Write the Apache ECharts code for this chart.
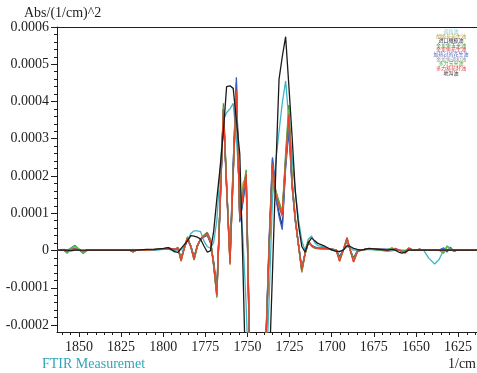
<!DOCTYPE html>
<html><head><meta charset="utf-8">
<script src="https://cdn.jsdelivr.net/npm/echarts@6/dist/echarts.min.js"></script>
<style>html,body{margin:0;padding:0;background:#fff}#c{width:477px;height:373px}</style>
</head><body><div id="c"></div><script>
// ---- data ----
const wavenumbers = [1863,1859,1857,1855,1852.4,1850,1847.6,1845,1838,1830,
1824,1820,1818,1816,1810,1804,1800,1797.2,1795.3,1793.3,
1791.4,1789.5,1787.6,1785.7,1783.7,1781.8,1779.9,1778,1776,1774,
1772.1,1770.2,1768.3,1766.3,1764.4,1762.5,1760.5,1758.6,1756.7,1754.7,
1752.8,1750.9,1749,1747,1745,1743,1741,1739.1,1737.2,1735.3,
1733.3,1731.4,1729.5,1727.5,1725.6,1723.7,1721.8,1719.8,1717.9,1716,
1714,1712.1,1710.2,1708.3,1704,1700,1697.5,1695.5,1693.3,1691.1,
1689.2,1687.2,1685,1682.8,1678,1672,1667.4,1664.5,1662.5,1660.5,
1658.5,1656.5,1654.5,1652,1648,1645.7,1642.5,1639.1,1636.5,1633.8,
1631.8,1629.8,1627.8,1625.8,1620,1614];

const seriesNames = ['调和油','胡姬花花生油','进口橄榄油','金龙鱼玉米油','金龙鱼花生油','加热过的花生油','金龙鱼调和油','多力玉米油','多力葵花籽油','地沟油'];
const seriesColors = ['#3cb4c6','#b5ad45','#22295a','#3a9a3a','#d83c3c','#3c5cc0','#8c8c8c','#58c058','#e8402a','#1a1a1a'];
const legendColors = ['#7fd0de','#b0a040','#303050','#409040','#d04040','#5060c0','#909090','#50b050','#e04040','#303030'];

const oil1 = [0,0.02e-4,0,0.05e-4,0.1e-4,0.03e-4,-0.05e-4,0,0,0,
0,0,0.02e-4,0,0,0,0.02e-4,0.03e-4,0,-0.05e-4,
0.05e-4,0,0.1e-4,0.25e-4,0.45e-4,0.52e-4,0.52e-4,0.5e-4,0.25e-4,0.1e-4,
0.05e-4,0.2e-4,0.8e-4,2.2e-4,3.5e-4,3.7e-4,3.8e-4,3.95e-4,3.0e-4,1.6e-4,
0.3e-4,-1.5e-4,-4e-4,-8e-4,-10e-4,-9e-4,-6e-4,-3.5e-4,-1.2e-4,1.4e-4,
2.4e-4,3.2e-4,3.95e-4,4.55e-4,3.5e-4,2.5e-4,1.6e-4,0.8e-4,0.25e-4,0,
0.3e-4,0.38e-4,0.2e-4,0.12e-4,0.08e-4,0,-0.02e-4,-0.05e-4,0,0.1e-4,
0.05e-4,0,0,0,0.02e-4,0,-0.03e-4,-0.02e-4,0,0,
-0.02e-4,0,0,0,0,0,-0.22e-4,-0.37e-4,-0.25e-4,0,
0,0,0,0,0,0];

const oil2 = [0,0,-0.03e-4,0.02e-4,0.03e-4,0,-0.03e-4,0,0,0,
0,0,-0.04e-4,0,0,0.02e-4,0.03e-4,0.05e-4,0.04e-4,0.02e-4,
0.05e-4,-0.25e-4,0.06e-4,0.32e-4,0.09e-4,-0.23e-4,0.12e-4,0.3e-4,0.38e-4,0.44e-4,
0.25e-4,-0.38e-4,-1.15e-4,1.35e-4,3.75e-4,1.75e-4,-0.3e-4,2.1e-4,4.25e-4,1.1e-4,
1.8e-4,2.0e-4,-2.3e-4,-7e-4,-10e-4,-9e-4,-6e-4,-2.35e-4,0.2e-4,2.25e-4,
1.55e-4,1.3e-4,1.05e-4,2.45e-4,3.6e-4,1.85e-4,0.9e-4,0.12e-4,-0.52e-4,-0.1e-4,
0.24e-4,0.12e-4,0.06e-4,0.05e-4,0.04e-4,0.02e-4,0,-0.26e-4,0,0.3e-4,
0,-0.28e-4,-0.04e-4,0,0.04e-4,0.02e-4,0,0.02e-4,0.04e-4,0,
-0.02e-4,-0.06e-4,0.04e-4,0,0.02e-4,0,0,0,0,0.02e-4,
0.02e-4,0.02e-4,0,0,0,0];

const oil3 = [0,0,-0.02e-4,0.01e-4,0.02e-4,0,-0.02e-4,0,0,0,
0,0,-0.02e-4,0,0,0.02e-4,0.03e-4,0.05e-4,0.03e-4,0.02e-4,
0.04e-4,-0.2e-4,0.06e-4,0.3e-4,0.12e-4,-0.18e-4,0.12e-4,0.3e-4,0.36e-4,0.4e-4,
0.2e-4,-0.3e-4,-1.0e-4,1.3e-4,3.75e-4,1.7e-4,-0.15e-4,2.3e-4,4.5e-4,0.8e-4,
1.35e-4,1.95e-4,-2.5e-4,-7e-4,-10e-4,-9e-4,-6e-4,-2.3e-4,0.3e-4,2.45e-4,
1.45e-4,1.0e-4,0.65e-4,2.3e-4,3.4e-4,1.75e-4,0.8e-4,0.12e-4,-0.5e-4,-0.08e-4,
0.22e-4,0.14e-4,0.08e-4,0.06e-4,0.05e-4,0.03e-4,0.01e-4,-0.18e-4,0.01e-4,0.26e-4,
0.01e-4,-0.22e-4,-0.02e-4,0,0.04e-4,0.03e-4,0.02e-4,0.03e-4,0.04e-4,0,
-0.02e-4,-0.04e-4,0.04e-4,0,0.02e-4,0,0,0,0,0.03e-4,
-0.03e-4,0.05e-4,-0.02e-4,0,0,0];

const oil4 = [0,0,-0.08e-4,0.05e-4,0.13e-4,0.02e-4,-0.09e-4,0,0,0,
0,0,-0.03e-4,0,0,0.02e-4,0.02e-4,0.05e-4,0.03e-4,0,
0.08e-4,-0.3e-4,0.1e-4,0.36e-4,0.1e-4,-0.27e-4,0.1e-4,0.3e-4,0.4e-4,0.48e-4,
0.3e-4,-0.4e-4,-1.28e-4,1.4e-4,3.95e-4,1.8e-4,-0.3e-4,2.1e-4,4.2e-4,0.9e-4,
1.6e-4,2.16e-4,-2.2e-4,-7e-4,-10e-4,-9e-4,-6e-4,-2.5e-4,0.1e-4,2.1e-4,
1.6e-4,1.3e-4,1.0e-4,2.6e-4,3.9e-4,1.9e-4,0.85e-4,0.1e-4,-0.6e-4,-0.12e-4,
0.22e-4,0.1e-4,0.05e-4,0.04e-4,0.03e-4,0.02e-4,0,-0.25e-4,0,0.3e-4,
0,-0.28e-4,-0.03e-4,0,0.03e-4,0,0,0.06e-4,0.02e-4,0,
0,-0.02e-4,0.03e-4,0,0,0,0,0,0,-0.08e-4,
0.1e-4,0.05e-4,-0.03e-4,0,0,0];

const oil5 = [0,0,-0.05e-4,0.03e-4,0.05e-4,0,-0.04e-4,0,0,0,
0,0,-0.05e-4,0.01e-4,0,0.02e-4,0.03e-4,0.06e-4,0.04e-4,0.02e-4,
0.06e-4,-0.27e-4,0.05e-4,0.32e-4,0.08e-4,-0.24e-4,0.11e-4,0.3e-4,0.37e-4,0.45e-4,
0.25e-4,-0.4e-4,-1.2e-4,1.3e-4,3.75e-4,1.7e-4,-0.35e-4,2.05e-4,4.3e-4,0.85e-4,
1.5e-4,2.05e-4,-2.3e-4,-7e-4,-10e-4,-9e-4,-6e-4,-2.4e-4,0.2e-4,2.3e-4,
1.5e-4,1.2e-4,0.95e-4,2.4e-4,3.6e-4,1.8e-4,0.85e-4,0.1e-4,-0.55e-4,-0.1e-4,
0.24e-4,0.12e-4,0.06e-4,0.05e-4,0.04e-4,0.02e-4,0,-0.29e-4,0,0.33e-4,
0,-0.31e-4,-0.05e-4,0,0.04e-4,0.02e-4,0,0.02e-4,0.04e-4,0,
-0.03e-4,-0.07e-4,0.05e-4,0,0.02e-4,0,0,0,0,0,
0.01e-4,0.02e-4,0,0,0,0];

const oil6 = [0,0,-0.03e-4,0.02e-4,0.04e-4,0,-0.02e-4,0,0,0,
0,0,-0.03e-4,0,0,0.02e-4,0.03e-4,0.05e-4,0.03e-4,0.02e-4,
0.05e-4,-0.22e-4,0.05e-4,0.3e-4,0.1e-4,-0.2e-4,0.1e-4,0.28e-4,0.36e-4,0.42e-4,
0.22e-4,-0.35e-4,-1.1e-4,1.2e-4,3.7e-4,1.6e-4,-0.2e-4,2.3e-4,4.65e-4,0.75e-4,
1.3e-4,1.9e-4,-2.6e-4,-7e-4,-10e-4,-9e-4,-6e-4,-2.2e-4,0.4e-4,2.5e-4,
1.4e-4,0.9e-4,0.55e-4,2.2e-4,3.2e-4,1.7e-4,0.8e-4,0.15e-4,-0.5e-4,-0.1e-4,
0.2e-4,0.12e-4,0.08e-4,0.06e-4,0.05e-4,0.03e-4,0,-0.2e-4,0,0.28e-4,
0,-0.25e-4,-0.03e-4,0,0.04e-4,0.03e-4,0.02e-4,0.03e-4,0.05e-4,0,
-0.02e-4,-0.05e-4,0.06e-4,0,0.02e-4,0,0,0,0,0.06e-4,
-0.05e-4,0.08e-4,-0.03e-4,0,0,0];

const oil7 = [0,0,-0.03e-4,0.02e-4,0.03e-4,0,-0.03e-4,0,0,0,
0,0,-0.04e-4,0,0,0.02e-4,0.03e-4,0.05e-4,0.03e-4,0.02e-4,
0.05e-4,-0.24e-4,0.06e-4,0.3e-4,0.1e-4,-0.22e-4,0.12e-4,0.3e-4,0.37e-4,0.43e-4,
0.24e-4,-0.36e-4,-1.12e-4,1.35e-4,3.7e-4,1.75e-4,-0.25e-4,2.1e-4,4.2e-4,0.95e-4,
1.6e-4,2.0e-4,-2.35e-4,-7e-4,-10e-4,-9e-4,-6e-4,-2.35e-4,0.25e-4,2.3e-4,
1.5e-4,1.15e-4,0.9e-4,2.35e-4,3.55e-4,1.8e-4,0.85e-4,0.12e-4,-0.5e-4,-0.1e-4,
0.23e-4,0.12e-4,0.06e-4,0.05e-4,0.04e-4,0.02e-4,0,-0.24e-4,0,0.28e-4,
0,-0.26e-4,-0.04e-4,0,0.04e-4,0.02e-4,0,0.02e-4,0.03e-4,0,
-0.02e-4,-0.05e-4,0.04e-4,0,0.02e-4,0,0,0,0,0.02e-4,
0.01e-4,0.02e-4,0,0,0,0];

const oil8 = [0,0,-0.06e-4,0.04e-4,0.1e-4,0.02e-4,-0.07e-4,0,0,0,
0,0,-0.04e-4,0,0,0.02e-4,0.03e-4,0.05e-4,0.03e-4,0.01e-4,
0.07e-4,-0.29e-4,0.08e-4,0.35e-4,0.09e-4,-0.26e-4,0.11e-4,0.3e-4,0.39e-4,0.47e-4,
0.28e-4,-0.42e-4,-1.25e-4,1.35e-4,3.85e-4,1.75e-4,-0.35e-4,2.05e-4,4.25e-4,0.88e-4,
1.55e-4,2.1e-4,-2.25e-4,-7e-4,-10e-4,-9e-4,-6e-4,-2.45e-4,0.15e-4,2.2e-4,
1.55e-4,1.25e-4,0.98e-4,2.5e-4,3.8e-4,1.85e-4,0.85e-4,0.1e-4,-0.58e-4,-0.1e-4,
0.23e-4,0.11e-4,0.05e-4,0.04e-4,0.03e-4,0.02e-4,0,-0.27e-4,0,0.32e-4,
0,-0.3e-4,-0.04e-4,0,0.03e-4,0.01e-4,0,0.05e-4,0.03e-4,0,
-0.02e-4,-0.05e-4,0.04e-4,0,0.01e-4,0,0,0,0,-0.06e-4,
0.12e-4,0.04e-4,-0.02e-4,0,0,0];

const oil9 = [0,0,-0.04e-4,0.02e-4,0.03e-4,0,-0.03e-4,0,0,0,
0,0,-0.05e-4,0.01e-4,0,0.02e-4,0.03e-4,0.06e-4,0.04e-4,0.02e-4,
0.06e-4,-0.28e-4,0.05e-4,0.33e-4,0.08e-4,-0.25e-4,0.12e-4,0.3e-4,0.38e-4,0.46e-4,
0.25e-4,-0.4e-4,-1.22e-4,1.3e-4,3.8e-4,1.7e-4,-0.39e-4,2.0e-4,4.3e-4,0.85e-4,
1.5e-4,2.05e-4,-2.3e-4,-7e-4,-10e-4,-9e-4,-6e-4,-2.4e-4,0.2e-4,2.3e-4,
1.5e-4,1.2e-4,0.95e-4,2.4e-4,3.65e-4,1.8e-4,0.85e-4,0.1e-4,-0.55e-4,-0.1e-4,
0.24e-4,0.12e-4,0.06e-4,0.05e-4,0.04e-4,0.02e-4,0,-0.3e-4,0,0.34e-4,
0,-0.32e-4,-0.05e-4,0,0.04e-4,0.02e-4,0,0.02e-4,0.04e-4,0,
-0.03e-4,-0.08e-4,0.05e-4,0,0.02e-4,0,0,0,0,0,
0.01e-4,0.02e-4,0,0,0,0];

const oil10 = [0,0,0,-0.02e-4,0,0,0,0,0,0,
0,0,0,0,0.02e-4,0.03e-4,0.05e-4,0.07e-4,0.02e-4,-0.04e-4,
-0.06e-4,0.05e-4,0.15e-4,0.25e-4,0.39e-4,0.38e-4,0.35e-4,0.3e-4,0.12e-4,-0.05e-4,
-0.02e-4,0.5e-4,1.38e-4,2.24e-4,3.2e-4,4.4e-4,4.42e-4,4.35e-4,3.5e-4,2.6e-4,
-0.5e-4,-4e-4,-7e-4,-10e-4,-12e-4,-10e-4,-7e-4,-5e-4,-3.2e-4,-0.6e-4,
2.2e-4,4.6e-4,5.2e-4,5.74e-4,4.43e-4,3.08e-4,1.6e-4,0.65e-4,0.1e-4,-0.05e-4,
0.2e-4,0.33e-4,0.25e-4,0.18e-4,0.1e-4,0,-0.03e-4,-0.03e-4,0,0.12e-4,
0.1e-4,0.05e-4,0.02e-4,0,0.05e-4,0.02e-4,0,0.02e-4,0,-0.05e-4,
-0.08e-4,-0.05e-4,0,0,0,0,0,0,0,0,
0,0,0,0,0,0];

const seriesValues = [oil1,oil2,oil3,oil4,oil5,oil6,oil7,oil8,oil9,oil10];

// tick ranges (nice ranges used only for drawing ticks/labels)
const xTickMin = 1625, xTickMax = 1850, xTickStep = 25;
const xEdgeMinorTicks = [1860,1855,1620,1615];
const yTickMin = -0.0002, yTickMax = 0.0006, yTickStep = 0.0001;

// ---- chart ----
const FONT = '"Liberation Serif","Times New Roman",serif';
const CJK = '"Noto Sans CJK SC",sans-serif';
const xMin = 1614, xMax = 1863.1, yMin = -0.00022, yMax = 0.0006;
const AX = '#1e1e1e';

const chart = echarts.init(document.getElementById('c'), null, {renderer:'canvas'});

const hidden = {show:false};
const legendGraphics = seriesNames.map((n,i)=>({
  type:'text', x:451, y:31 + i*4.63,
  style:{text:n, fill:legendColors[i], font:'5px '+CJK, textAlign:'center', textVerticalAlign:'middle'}
}));

chart.setOption({
  animation:false,
  backgroundColor:'#ffffff',
  grid:[
    {left:57,right:0,top:27,bottom:41},      // data grid
    {left:57,right:0,top:27,bottom:48},      // y ticks grid (-0.0002..0.0006)
    {left:79,right:19,top:27,bottom:41}      // x ticks grid (1850..1625)
  ],
  xAxis:[
    {type:'value',gridIndex:0,min:xMin,max:xMax,inverse:true,position:'bottom',
      axisLine:{onZero:false,lineStyle:{color:AX,width:1}},
      axisTick:{show:true,customValues:xEdgeMinorTicks,length:3,lineStyle:{color:AX}},
      axisLabel:hidden, splitLine:hidden},
    {type:'value',gridIndex:0,min:xMin,max:xMax,inverse:true,position:'top',
      axisLine:{onZero:false,lineStyle:{color:AX,width:1}},
      axisTick:hidden,axisLabel:hidden,splitLine:hidden},
    {type:'value',gridIndex:1,min:xMin,max:xMax,inverse:true,show:false},
    {type:'value',gridIndex:2,min:xTickMin,max:xTickMax,interval:xTickStep,inverse:true,position:'bottom',
      axisLine:{show:false,onZero:false},
      axisTick:{show:true,length:5,lineStyle:{color:AX}},
      minorTick:{show:true,splitNumber:5,length:3,lineStyle:{color:AX}},
      axisLabel:{margin:8,fontSize:14,fontFamily:FONT,color:AX,formatter:v=>String(v)},
      splitLine:hidden, minorSplitLine:hidden}
  ],
  yAxis:[
    {type:'value',gridIndex:0,min:yMin,max:yMax,position:'left',
      axisLine:{show:true,onZero:false,lineStyle:{color:AX,width:1}},
      axisTick:hidden,axisLabel:hidden,splitLine:hidden},
    {type:'value',gridIndex:1,min:yTickMin,max:yTickMax,interval:yTickStep,position:'left',
      axisLine:{show:false,onZero:false},
      axisTick:{show:true,length:6,lineStyle:{color:AX}},
      minorTick:{show:true,splitNumber:5,length:3,lineStyle:{color:AX}},
      axisLabel:{margin:8,fontSize:14,fontFamily:FONT,color:AX,
        formatter:v=> (Math.abs(v)<1e-12 ? '0' : v.toFixed(4))},
      splitLine:hidden, minorSplitLine:hidden},
    {type:'value',gridIndex:2,min:yMin,max:yMax,show:false}
  ],
  graphic:[
    {type:'text',x:24,y:13,style:{text:'Abs/(1/cm)^2',fill:AX,font:'14px '+FONT,textVerticalAlign:'middle'}},
    {type:'text',x:42,y:364,style:{text:'FTIR Measuremet',fill:'#2ea6b6',font:'14px '+FONT,textVerticalAlign:'middle'}},
    {type:'text',x:476,y:364,style:{text:'1/cm',fill:AX,font:'14px '+FONT,textAlign:'right',textVerticalAlign:'middle'}}
  ].concat(legendGraphics),
  series: seriesNames.map((n,i)=>({
    name:n, type:'line', xAxisIndex:0, yAxisIndex:0,
    data: wavenumbers.map((w,k)=>[w, seriesValues[i][k]]),
    symbol:'none', clip:true, smooth:false,
    lineStyle:{color:seriesColors[i], width:1.3},
    itemStyle:{color:seriesColors[i]},
    z: 2 + i
  }))
});
</script></body></html>
